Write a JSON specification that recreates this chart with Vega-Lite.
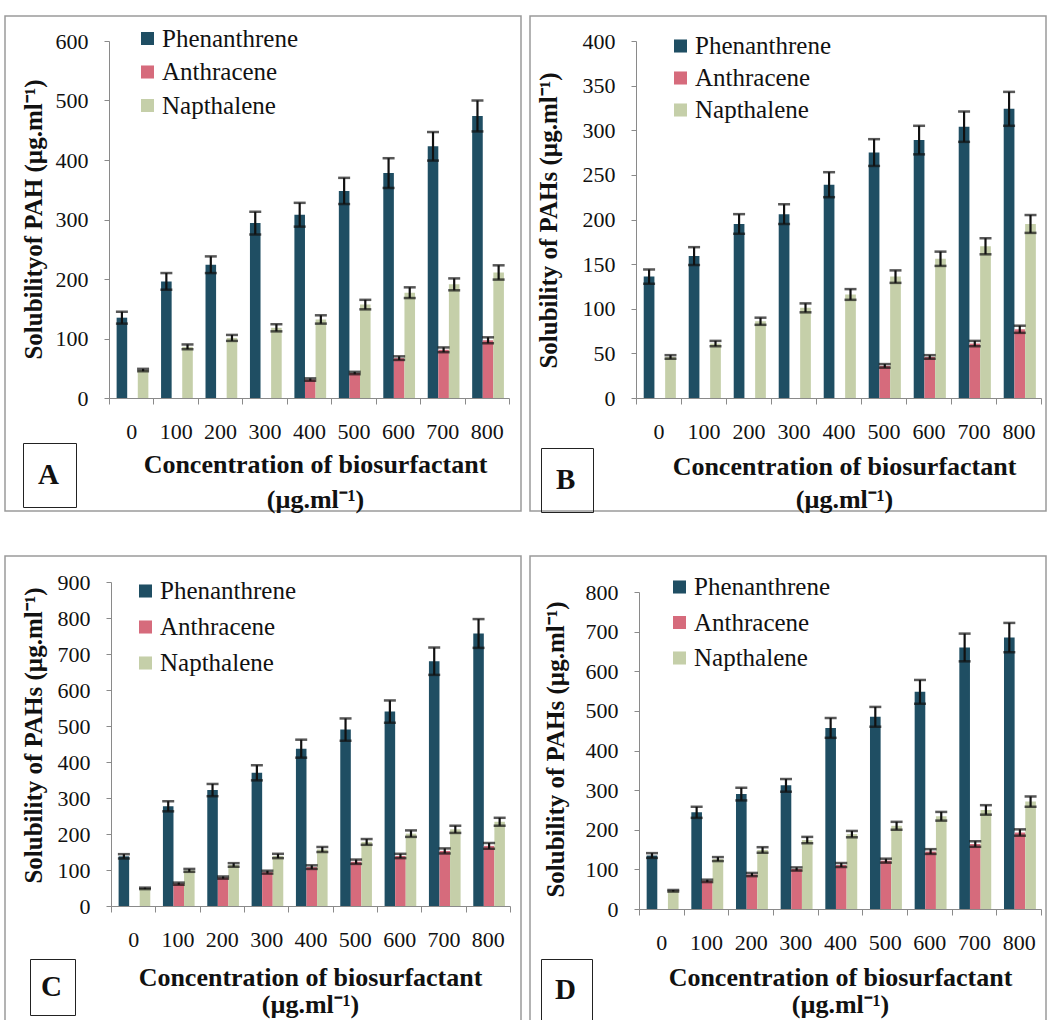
{
  "$schema": "https://vega.github.io/schema/vega-lite/v6.json",
  "padding": {"left": 4, "top": 15, "right": 0, "bottom": 0},
  "background": "white",
  "bounds": "flush",
  "datasets": {
    "pah": [
      {"panel":"A","conc":"0","pah":"Phenanthrene","value":135,"err":10},
      {"panel":"A","conc":"100","pah":"Phenanthrene","value":196,"err":14},
      {"panel":"A","conc":"200","pah":"Phenanthrene","value":224,"err":14},
      {"panel":"A","conc":"300","pah":"Phenanthrene","value":294,"err":19},
      {"panel":"A","conc":"400","pah":"Phenanthrene","value":308,"err":20},
      {"panel":"A","conc":"500","pah":"Phenanthrene","value":348,"err":22},
      {"panel":"A","conc":"600","pah":"Phenanthrene","value":378,"err":25},
      {"panel":"A","conc":"700","pah":"Phenanthrene","value":423,"err":24},
      {"panel":"A","conc":"800","pah":"Phenanthrene","value":474,"err":26},
      {"panel":"A","conc":"400","pah":"Anthracene","value":31,"err":2},
      {"panel":"A","conc":"500","pah":"Anthracene","value":42,"err":2},
      {"panel":"A","conc":"600","pah":"Anthracene","value":67,"err":3},
      {"panel":"A","conc":"700","pah":"Anthracene","value":81,"err":4},
      {"panel":"A","conc":"800","pah":"Anthracene","value":97,"err":5},
      {"panel":"A","conc":"0","pah":"Napthalene","value":47,"err":2},
      {"panel":"A","conc":"100","pah":"Napthalene","value":86,"err":4},
      {"panel":"A","conc":"200","pah":"Napthalene","value":101,"err":5},
      {"panel":"A","conc":"300","pah":"Napthalene","value":118,"err":6},
      {"panel":"A","conc":"400","pah":"Napthalene","value":132,"err":7},
      {"panel":"A","conc":"500","pah":"Napthalene","value":157,"err":8},
      {"panel":"A","conc":"600","pah":"Napthalene","value":177,"err":9},
      {"panel":"A","conc":"700","pah":"Napthalene","value":191,"err":10},
      {"panel":"A","conc":"800","pah":"Napthalene","value":211,"err":12},

      {"panel":"B","conc":"0","pah":"Phenanthrene","value":136,"err":8},
      {"panel":"B","conc":"100","pah":"Phenanthrene","value":159,"err":10},
      {"panel":"B","conc":"200","pah":"Phenanthrene","value":195,"err":11},
      {"panel":"B","conc":"300","pah":"Phenanthrene","value":206,"err":11},
      {"panel":"B","conc":"400","pah":"Phenanthrene","value":239,"err":14},
      {"panel":"B","conc":"500","pah":"Phenanthrene","value":275,"err":15},
      {"panel":"B","conc":"600","pah":"Phenanthrene","value":289,"err":16},
      {"panel":"B","conc":"700","pah":"Phenanthrene","value":304,"err":17},
      {"panel":"B","conc":"800","pah":"Phenanthrene","value":324,"err":19},
      {"panel":"B","conc":"500","pah":"Anthracene","value":36,"err":2},
      {"panel":"B","conc":"600","pah":"Anthracene","value":46,"err":2},
      {"panel":"B","conc":"700","pah":"Anthracene","value":61,"err":3},
      {"panel":"B","conc":"800","pah":"Anthracene","value":77,"err":4},
      {"panel":"B","conc":"0","pah":"Napthalene","value":46,"err":2},
      {"panel":"B","conc":"100","pah":"Napthalene","value":61,"err":3},
      {"panel":"B","conc":"200","pah":"Napthalene","value":86,"err":4},
      {"panel":"B","conc":"300","pah":"Napthalene","value":101,"err":5},
      {"panel":"B","conc":"400","pah":"Napthalene","value":116,"err":6},
      {"panel":"B","conc":"500","pah":"Napthalene","value":136,"err":7},
      {"panel":"B","conc":"600","pah":"Napthalene","value":156,"err":8},
      {"panel":"B","conc":"700","pah":"Napthalene","value":170,"err":9},
      {"panel":"B","conc":"800","pah":"Napthalene","value":195,"err":10},

      {"panel":"C","conc":"0","pah":"Phenanthrene","value":138,"err":6},
      {"panel":"C","conc":"100","pah":"Phenanthrene","value":277,"err":14},
      {"panel":"C","conc":"200","pah":"Phenanthrene","value":322,"err":17},
      {"panel":"C","conc":"300","pah":"Phenanthrene","value":370,"err":21},
      {"panel":"C","conc":"400","pah":"Phenanthrene","value":437,"err":25},
      {"panel":"C","conc":"500","pah":"Phenanthrene","value":490,"err":31},
      {"panel":"C","conc":"600","pah":"Phenanthrene","value":540,"err":31},
      {"panel":"C","conc":"700","pah":"Phenanthrene","value":680,"err":38},
      {"panel":"C","conc":"800","pah":"Phenanthrene","value":757,"err":40},
      {"panel":"C","conc":"100","pah":"Anthracene","value":62,"err":3},
      {"panel":"C","conc":"200","pah":"Anthracene","value":79,"err":3},
      {"panel":"C","conc":"300","pah":"Anthracene","value":94,"err":4},
      {"panel":"C","conc":"400","pah":"Anthracene","value":108,"err":5},
      {"panel":"C","conc":"500","pah":"Anthracene","value":123,"err":6},
      {"panel":"C","conc":"600","pah":"Anthracene","value":139,"err":6},
      {"panel":"C","conc":"700","pah":"Anthracene","value":153,"err":7},
      {"panel":"C","conc":"800","pah":"Anthracene","value":167,"err":8},
      {"panel":"C","conc":"0","pah":"Napthalene","value":49,"err":2},
      {"panel":"C","conc":"100","pah":"Napthalene","value":99,"err":4},
      {"panel":"C","conc":"200","pah":"Napthalene","value":114,"err":5},
      {"panel":"C","conc":"300","pah":"Napthalene","value":139,"err":6},
      {"panel":"C","conc":"400","pah":"Napthalene","value":157,"err":7},
      {"panel":"C","conc":"500","pah":"Napthalene","value":178,"err":8},
      {"panel":"C","conc":"600","pah":"Napthalene","value":201,"err":9},
      {"panel":"C","conc":"700","pah":"Napthalene","value":213,"err":10},
      {"panel":"C","conc":"800","pah":"Napthalene","value":234,"err":11},

      {"panel":"D","conc":"0","pah":"Phenanthrene","value":135,"err":6},
      {"panel":"D","conc":"100","pah":"Phenanthrene","value":244,"err":14},
      {"panel":"D","conc":"200","pah":"Phenanthrene","value":290,"err":16},
      {"panel":"D","conc":"300","pah":"Phenanthrene","value":312,"err":16},
      {"panel":"D","conc":"400","pah":"Phenanthrene","value":457,"err":25},
      {"panel":"D","conc":"500","pah":"Phenanthrene","value":485,"err":25},
      {"panel":"D","conc":"600","pah":"Phenanthrene","value":548,"err":30},
      {"panel":"D","conc":"700","pah":"Phenanthrene","value":660,"err":35},
      {"panel":"D","conc":"800","pah":"Phenanthrene","value":685,"err":37},
      {"panel":"D","conc":"100","pah":"Anthracene","value":71,"err":3},
      {"panel":"D","conc":"200","pah":"Anthracene","value":87,"err":4},
      {"panel":"D","conc":"300","pah":"Anthracene","value":101,"err":4},
      {"panel":"D","conc":"400","pah":"Anthracene","value":111,"err":5},
      {"panel":"D","conc":"500","pah":"Anthracene","value":122,"err":5},
      {"panel":"D","conc":"600","pah":"Anthracene","value":145,"err":6},
      {"panel":"D","conc":"700","pah":"Anthracene","value":164,"err":7},
      {"panel":"D","conc":"800","pah":"Anthracene","value":193,"err":8},
      {"panel":"D","conc":"0","pah":"Napthalene","value":46,"err":2},
      {"panel":"D","conc":"100","pah":"Napthalene","value":126,"err":5},
      {"panel":"D","conc":"200","pah":"Napthalene","value":149,"err":7},
      {"panel":"D","conc":"300","pah":"Napthalene","value":174,"err":8},
      {"panel":"D","conc":"400","pah":"Napthalene","value":189,"err":8},
      {"panel":"D","conc":"500","pah":"Napthalene","value":210,"err":10},
      {"panel":"D","conc":"600","pah":"Napthalene","value":234,"err":11},
      {"panel":"D","conc":"700","pah":"Napthalene","value":250,"err":12},
      {"panel":"D","conc":"800","pah":"Napthalene","value":271,"err":13}
    ]
  },
  "data": {"name": "pah"},
  "columns": 2,
  "spacing": {"row": 45, "column": 9},
  "resolve": {
    "scale": {"color": "independent", "opacity": "independent", "x": "independent", "y": "independent", "xOffset": "independent"},
    "legend": {"color": "independent", "opacity": "independent"}
  },
  "concat": [
    {
      "width": 516, "height": 495,
      "transform": [{"filter": "datum.panel === 'A'"}],
      "encoding": {
        "x": {"field": "conc", "type": "ordinal", "sort": ["0","100","200","300","400","500","600","700","800"],
              "scale": {"range": [104, 504], "paddingInner": 0, "paddingOuter": 0},
              "axis": {"offset": -113, "title": ["Concentration of biosurfactant", "(µg.ml⁻¹)"], "titleX": 310, "titleY": 66, "titleBaseline": "middle", "titleLineHeight": 35}},
        "xOffset": {"field": "pah", "type": "nominal", "scale": {"domain": ["Phenanthrene","Anthracene","Napthalene"], "paddingInner": 0, "paddingOuter": 0.6, "align": 0.6}},
        "y": {"field": "value", "type": "quantitative",
              "scale": {"domain": [0, 600], "range": [382, 25], "nice": false},
              "axis": {"offset": -104, "values": [0,100,200,300,400,500,600], "title": "Solubilityof PAH (µg.ml⁻¹)", "titleX": -76, "titleY": 203, "titleBaseline": "middle"}}
      },
      "layer": [
        {"mark": {"type": "bar"},
         "encoding": {
           "color": {"field": "pah", "type": "nominal", "scale": {"domain": ["Phenanthrene","Anthracene","Napthalene"], "range": ["#1f4e63","#d66b7c","#c5cfa9"]},
                     "legend": {"orient": "none", "legendX": 130, "legendY": 10, "rowPadding": 7.5}},
           "opacity": {"field": "panel", "type": "ordinal", "scale": {"range": [1, 1]},
                       "legend": {"orient": "none", "legendX": 18, "legendY": 427, "title": null, "symbolSize": 0, "symbolOpacity": 0, "symbolStrokeWidth": 0, "labelOffset": -31, "labelFontSize": 29, "labelFontWeight": "bold", "padding": 17, "strokeColor": "#222"}}
         }},
        {"mark": {"type": "errorbar", "ticks": {"size": 12, "thickness": 2.5, "color": "#111"}, "rule": {"strokeWidth": 2.2, "color": "#111"}},
         "encoding": {"yError": {"field": "err"}}}
      ]
    },
    {
      "width": 516, "height": 495,
      "transform": [{"filter": "datum.panel === 'B'"}],
      "encoding": {
        "x": {"field": "conc", "type": "ordinal", "sort": ["0","100","200","300","400","500","600","700","800"],
              "scale": {"range": [106, 511], "paddingInner": 0, "paddingOuter": 0},
              "axis": {"offset": -113, "title": ["Concentration of biosurfactant", "(µg.ml⁻¹)"], "titleX": 314, "titleY": 68, "titleBaseline": "middle", "titleLineHeight": 33}},
        "xOffset": {"field": "pah", "type": "nominal", "scale": {"domain": ["Phenanthrene","Anthracene","Napthalene"], "paddingInner": 0, "paddingOuter": 0.6, "align": 0.6}},
        "y": {"field": "value", "type": "quantitative",
              "scale": {"domain": [0, 400], "range": [382, 25], "nice": false},
              "axis": {"offset": -106, "values": [0,50,100,150,200,250,300,350,400], "title": "Solubility of PAHs (µg.ml⁻¹)", "titleX": -88, "titleY": 204, "titleBaseline": "middle"}}
      },
      "layer": [
        {"mark": {"type": "bar"},
         "encoding": {
           "color": {"field": "pah", "type": "nominal", "scale": {"domain": ["Phenanthrene","Anthracene","Napthalene"], "range": ["#1f4e63","#d66b7c","#c5cfa9"]},
                     "legend": {"orient": "none", "legendX": 138, "legendY": 17.5, "rowPadding": 6}},
           "opacity": {"field": "panel", "type": "ordinal", "scale": {"range": [1, 1]},
                       "legend": {"orient": "none", "legendX": 11, "legendY": 432, "title": null, "symbolSize": 0, "symbolOpacity": 0, "symbolStrokeWidth": 0, "labelOffset": -31, "labelFontSize": 29, "labelFontWeight": "bold", "padding": 17, "strokeColor": "#222"}}
         }},
        {"mark": {"type": "errorbar", "ticks": {"size": 12, "thickness": 2.5, "color": "#111"}, "rule": {"strokeWidth": 2.2, "color": "#111"}},
         "encoding": {"yError": {"field": "err"}}}
      ]
    },
    {
      "width": 516, "height": 466,
      "transform": [{"filter": "datum.panel === 'C'"}],
      "encoding": {
        "x": {"field": "conc", "type": "ordinal", "sort": ["0","100","200","300","400","500","600","700","800"],
              "scale": {"range": [106, 505], "paddingInner": 0, "paddingOuter": 0},
              "axis": {"offset": -116, "title": ["Concentration of biosurfactant", "(µg.ml⁻¹)"], "titleX": 305, "titleY": 71, "titleBaseline": "middle", "titleLineHeight": 27}},
        "xOffset": {"field": "pah", "type": "nominal", "scale": {"domain": ["Phenanthrene","Anthracene","Napthalene"], "paddingInner": 0, "paddingOuter": 0.6, "align": 0.6}},
        "y": {"field": "value", "type": "quantitative",
              "scale": {"domain": [0, 900], "range": [350, 26], "nice": false},
              "axis": {"offset": -106, "values": [0,100,200,300,400,500,600,700,800,900], "title": "Solubility of PAHs (µg.ml⁻¹)", "titleX": -78, "titleY": 179, "titleBaseline": "middle"}}
      },
      "layer": [
        {"mark": {"type": "bar"},
         "encoding": {
           "color": {"field": "pah", "type": "nominal", "scale": {"domain": ["Phenanthrene","Anthracene","Napthalene"], "range": ["#1f4e63","#d66b7c","#c5cfa9"]},
                     "legend": {"orient": "none", "legendX": 128, "legendY": 22.5, "rowPadding": 10}},
           "opacity": {"field": "panel", "type": "ordinal", "scale": {"range": [1, 1]},
                       "legend": {"orient": "none", "legendX": 25, "legendY": 403, "title": null, "symbolSize": 0, "symbolOpacity": 0, "symbolStrokeWidth": 0, "labelOffset": -31, "labelFontSize": 29, "labelFontWeight": "bold", "padding": 13, "strokeColor": "#222"}}
         }},
        {"mark": {"type": "errorbar", "ticks": {"size": 12, "thickness": 2.5, "color": "#111"}, "rule": {"strokeWidth": 2.2, "color": "#111"}},
         "encoding": {"yError": {"field": "err"}}}
      ]
    },
    {
      "width": 516, "height": 466,
      "transform": [{"filter": "datum.panel === 'D'"}],
      "encoding": {
        "x": {"field": "conc", "type": "ordinal", "sort": ["0","100","200","300","400","500","600","700","800"],
              "scale": {"range": [109, 511], "paddingInner": 0, "paddingOuter": 0},
              "axis": {"offset": -113, "title": ["Concentration of biosurfactant", "(µg.ml⁻¹)"], "titleX": 310, "titleY": 68, "titleBaseline": "middle", "titleLineHeight": 27}},
        "xOffset": {"field": "pah", "type": "nominal", "scale": {"domain": ["Phenanthrene","Anthracene","Napthalene"], "paddingInner": 0, "paddingOuter": 0.6, "align": 0.6}},
        "y": {"field": "value", "type": "quantitative",
              "scale": {"domain": [0, 800], "range": [353, 36], "nice": false},
              "axis": {"offset": -109, "values": [0,100,200,300,400,500,600,700,800], "title": "Solubility of PAHs (µg.ml⁻¹)", "titleX": -84, "titleY": 193, "titleBaseline": "middle"}}
      },
      "layer": [
        {"mark": {"type": "bar"},
         "encoding": {
           "color": {"field": "pah", "type": "nominal", "scale": {"domain": ["Phenanthrene","Anthracene","Napthalene"], "range": ["#1f4e63","#d66b7c","#c5cfa9"]},
                     "legend": {"orient": "none", "legendX": 137, "legendY": 18.5, "rowPadding": 9.5}},
           "opacity": {"field": "panel", "type": "ordinal", "scale": {"range": [1, 1]},
                       "legend": {"orient": "none", "legendX": 11, "legendY": 403, "title": null, "symbolSize": 0, "symbolOpacity": 0, "symbolStrokeWidth": 0, "labelOffset": -31, "labelFontSize": 29, "labelFontWeight": "bold", "padding": 16, "strokeColor": "#222"}}
         }},
        {"mark": {"type": "errorbar", "ticks": {"size": 12, "thickness": 2.5, "color": "#111"}, "rule": {"strokeWidth": 2.2, "color": "#111"}},
         "encoding": {"yError": {"field": "err"}}}
      ]
    }
  ],
  "config": {
    "font": "Liberation Serif",
    "view": {"stroke": "#9a9a9a", "strokeWidth": 1.5},
    "axis": {"grid": false, "labelFont": "Liberation Serif", "titleFont": "Liberation Serif", "labelFontSize": 22, "labelColor": "#111", "titleFontSize": 25, "titleFontWeight": "bold", "titleColor": "#111", "domainColor": "#8a8a8a", "tickColor": "#8a8a8a"},
    "axisX": {"labelAngle": 0, "tickBand": "extent", "tickSize": 6, "labelPadding": 17, "labelFont": "Liberation Serif", "titleFont": "Liberation Serif", "titleFontSize": 26},
    "axisY": {"tickSize": 5, "labelPadding": 16, "labelFont": "Liberation Serif", "titleFont": "Liberation Serif"},
    "legend": {"title": null, "labelFont": "Liberation Serif", "labelFontSize": 25, "labelColor": "#111", "symbolType": "square", "symbolSize": 170, "symbolStrokeWidth": 0, "symbolOpacity": 1, "labelOffset": 2, "padding": 0}
  }
}
